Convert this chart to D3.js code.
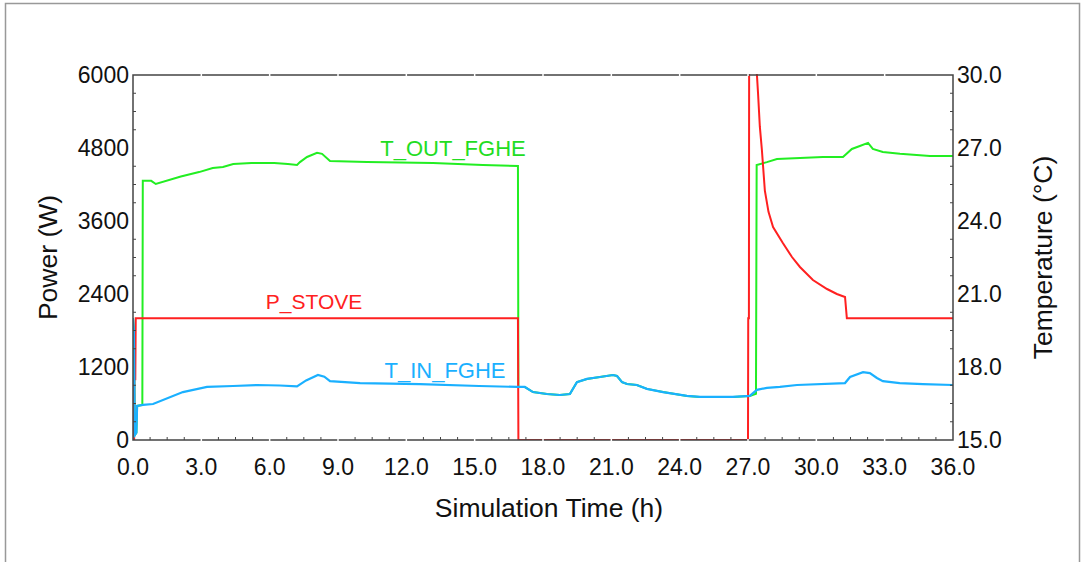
<!DOCTYPE html>
<html>
<head>
<meta charset="utf-8">
<script src="https://cdn.jsdelivr.net/npm/d3@7"></script>
<style>
  body { margin: 0; background: #fff; }
  text { font-family: "Liberation Sans", Arial, sans-serif; }
</style>
</head>
<body>
<div id="chart"></div>
<script>
// tick labels
const timeTicks = [0, 3, 6, 9, 12, 15, 18, 21, 24, 27, 30, 33, 36];
const powerTicks = [0, 1200, 2400, 3600, 4800, 6000];
const tempTicks = [15, 18, 21, 24, 27, 30];

// P_STOVE [h, W]
const pStove = [
  [0, 0], [0.05, 0], [0.06, 1000], [0.1, 1000], [0.12, 2000], [16.9, 2000], [16.92, 0],
  [27.0, 0], [27.01, 2000], [27.04, 2000], [27.05, 6200], [27.36, 6200], [27.44, 5704],
  [27.52, 5150], [27.61, 4767], [27.74, 4100], [27.9, 3750], [28.1, 3501], [28.53, 3238],
  [28.93, 3008], [29.28, 2844], [29.85, 2630], [30.47, 2482], [30.9, 2400], [31.26, 2351],
  [31.34, 2000], [36, 2000]
];

// T_IN_FGHE [h, degC]
const tIn = [
  [0, 20.0], [0.04, 19.5], [0.08, 15.2], [0.15, 15.3], [0.18, 16.4], [0.44, 16.44],
  [0.88, 16.48], [2.19, 16.97], [3.25, 17.18], [4.39, 17.22], [5.44, 17.26], [6.45, 17.24],
  [7.2, 17.2], [7.6, 17.45], [8.12, 17.67], [8.4, 17.6], [8.65, 17.42], [9.97, 17.34],
  [12.6, 17.3], [15.2, 17.22], [16.86, 17.18], [17.2, 17.18], [17.56, 16.97], [18.17, 16.89],
  [18.74, 16.85], [19.18, 16.89], [19.49, 17.38], [19.93, 17.51], [20.5, 17.59], [21.07, 17.67],
  [21.25, 17.63], [21.47, 17.38], [21.69, 17.3], [22.12, 17.26], [22.56, 17.1], [23.27, 16.97],
  [24.32, 16.81], [24.89, 16.77], [26.34, 16.77], [27.08, 16.81], [27.39, 17.06], [27.83, 17.14],
  [28.4, 17.18], [29.15, 17.26], [31.26, 17.34], [31.48, 17.59], [32.05, 17.79], [32.35, 17.75],
  [32.66, 17.55], [32.92, 17.42], [33.66, 17.34], [34.68, 17.3], [36, 17.26]
];

// T_OUT_FGHE [h, degC]
const tOut = [
  [0, 20.0], [0.04, 19.5], [0.08, 15.2], [0.15, 15.3], [0.18, 16.4], [0.41, 16.44],
  [0.43, 25.65], [0.8, 25.65], [1.0, 25.52], [2.1, 25.83], [2.9, 26.01], [3.5, 26.18],
  [3.95, 26.22], [4.4, 26.34], [5.2, 26.38], [6.2, 26.38], [6.8, 26.34], [7.2, 26.3],
  [7.33, 26.42], [7.64, 26.63], [8.08, 26.8], [8.3, 26.76], [8.65, 26.47], [10.27, 26.42],
  [13.17, 26.38], [15.36, 26.3], [16.9, 26.26],
  [16.92, 17.18], [17.2, 17.18], [17.56, 16.97], [18.17, 16.89], [18.74, 16.85], [19.18, 16.89],
  [19.49, 17.38], [19.93, 17.51], [20.5, 17.59], [21.07, 17.67], [21.25, 17.63], [21.47, 17.38],
  [21.69, 17.3], [22.12, 17.26], [22.56, 17.1], [23.27, 16.97], [24.32, 16.81], [24.89, 16.77],
  [26.34, 16.77], [27.08, 16.81], [27.35, 16.9], [27.38, 26.3], [27.83, 26.42], [28.27, 26.55],
  [29.28, 26.59], [30.29, 26.63], [31.17, 26.63], [31.56, 26.96], [31.91, 27.08], [32.27, 27.21],
  [32.48, 26.96], [32.92, 26.84], [33.67, 26.76], [34.99, 26.67], [36, 26.67]
];

const width = 1081, height = 562;
const margin = {top: 75, right: 128, bottom: 122, left: 133};

const svg = d3.select("#chart").append("svg")
    .attr("width", width)
    .attr("height", height);

// outer frame (no bottom edge visible)
svg.append("path")
    .attr("d", "M5.5,600V3.5H1079.5V600")
    .attr("fill", "none")
    .attr("stroke", "#999")
    .attr("stroke-width", 1.5);

const x = d3.scaleLinear().domain([0, 36]).range([margin.left, width - margin.right]);
const yP = d3.scaleLinear().domain([0, 6000]).range([height - margin.bottom, margin.top]);
const yT = d3.scaleLinear().domain([15, 30]).range([height - margin.bottom, margin.top]);

const x0 = x(0), x1 = x(36), y0 = yP(0), y1 = yP(6000);

// lines, clipped to the plot box
svg.append("clipPath").attr("id", "plot")
  .append("rect")
    .attr("x", x0).attr("y", y1 - 1)
    .attr("width", x1 - x0).attr("height", y0 - y1 + 1);

const plot = svg.append("g").attr("clip-path", "url(#plot)");

const lineT = d3.line().x(d => x(d[0])).y(d => yT(d[1]));
const lineP = d3.line().x(d => x(d[0])).y(d => yP(d[1]));

plot.append("path").datum(tOut)
    .attr("d", lineT).attr("fill", "none").attr("stroke", "#22ee22").attr("stroke-width", 2);
plot.append("path").datum(pStove)
    .attr("d", lineP).attr("fill", "none").attr("stroke", "#ff2020").attr("stroke-width", 2);
plot.append("path").datum(tIn)
    .attr("d", lineT).attr("fill", "none").attr("stroke", "#1ab0ff").attr("stroke-width", 2.2);

// axes: box lines with small inward minor ticks
const axisColor = "#444";
const box = svg.append("g").attr("stroke", axisColor).attr("stroke-width", 1.5).attr("fill", "none");
box.append("path").attr("d", `M${x0},${y1}H${x1}V${y0}H${x0}Z`);

const minorT = d3.range(0, 36.01, 0.75).filter(v => v % 3 !== 0);
const minorP = d3.range(0, 6001, 300).filter(v => v % 1200 !== 0);
const minorTemp = d3.range(15, 30.01, 0.75).filter(v => Math.abs((v - 15) % 3) > 0.01);

svg.append("g").selectAll("line").data(minorT).join("line")
    .attr("x1", d => x(d)).attr("x2", d => x(d))
    .attr("y1", y0).attr("y2", y0 - 3)
    .attr("stroke", axisColor).attr("stroke-width", 1);
svg.append("g").selectAll("line").data(minorP).join("line")
    .attr("x1", x0).attr("x2", x0 + 3)
    .attr("y1", d => yP(d)).attr("y2", d => yP(d))
    .attr("stroke", axisColor).attr("stroke-width", 1);
svg.append("g").selectAll("line").data(minorTemp).join("line")
    .attr("x1", x1).attr("x2", x1 - 3)
    .attr("y1", d => yT(d)).attr("y2", d => yT(d))
    .attr("stroke", axisColor).attr("stroke-width", 1);

// major tick positions show as small gaps in the box lines
const gaps = svg.append("g").attr("stroke", "#fff").attr("stroke-width", 1.5);
gaps.selectAll(".gt").data(timeTicks.slice(1, -1)).join("line")
    .attr("x1", d => x(d)).attr("x2", d => x(d))
    .attr("y1", y1 - 1).attr("y2", y1 + 1);
gaps.selectAll(".gb").data(timeTicks.slice(1, -1)).join("line")
    .attr("x1", d => x(d)).attr("x2", d => x(d))
    .attr("y1", y0 - 1).attr("y2", y0 + 1);

// tick labels
svg.append("g").selectAll("text").data(timeTicks).join("text")
    .attr("x", d => x(d)).attr("y", y0 + 35)
    .attr("text-anchor", "middle")
    .style("font-size", "23px").attr("fill", "#111")
    .text(d => d.toFixed(1));
svg.append("g").selectAll("text").data(powerTicks).join("text")
    .attr("x", x0 - 4).attr("y", d => yP(d) + 8)
    .attr("text-anchor", "end")
    .style("font-size", "23px").attr("fill", "#111")
    .text(d => d);
svg.append("g").selectAll("text").data(tempTicks).join("text")
    .attr("x", x1 + 4).attr("y", d => yT(d) + 8)
    .attr("text-anchor", "start")
    .style("font-size", "23px").attr("fill", "#111")
    .text(d => d.toFixed(1));

// axis titles
svg.append("text")
    .attr("x", 549).attr("y", 517)
    .attr("text-anchor", "middle")
    .style("font-size", "26.5px").attr("fill", "#111")
    .text("Simulation Time (h)");
svg.append("text")
    .attr("transform", `translate(57,${(y0 + y1) / 2}) rotate(-90)`)
    .attr("text-anchor", "middle")
    .style("font-size", "26.5px").attr("fill", "#111")
    .text("Power (W)");
svg.append("text")
    .attr("transform", `translate(1052,${(y0 + y1) / 2}) rotate(-90)`)
    .attr("text-anchor", "middle")
    .style("font-size", "26.5px").attr("fill", "#111")
    .text("Temperature (°C)");

// series labels
svg.append("text").attr("x", 453).attr("y", 156).attr("text-anchor", "middle")
    .style("font-size", "22px").attr("fill", "#22dd22").text("T_OUT_FGHE");
svg.append("text").attr("x", 314).attr("y", 309).attr("text-anchor", "middle")
    .style("font-size", "21px").attr("fill", "#ff2020").text("P_STOVE");
svg.append("text").attr("x", 445).attr("y", 378).attr("text-anchor", "middle")
    .style("font-size", "22px").attr("fill", "#1ab0ff").text("T_IN_FGHE");
</script>
</body>
</html>
